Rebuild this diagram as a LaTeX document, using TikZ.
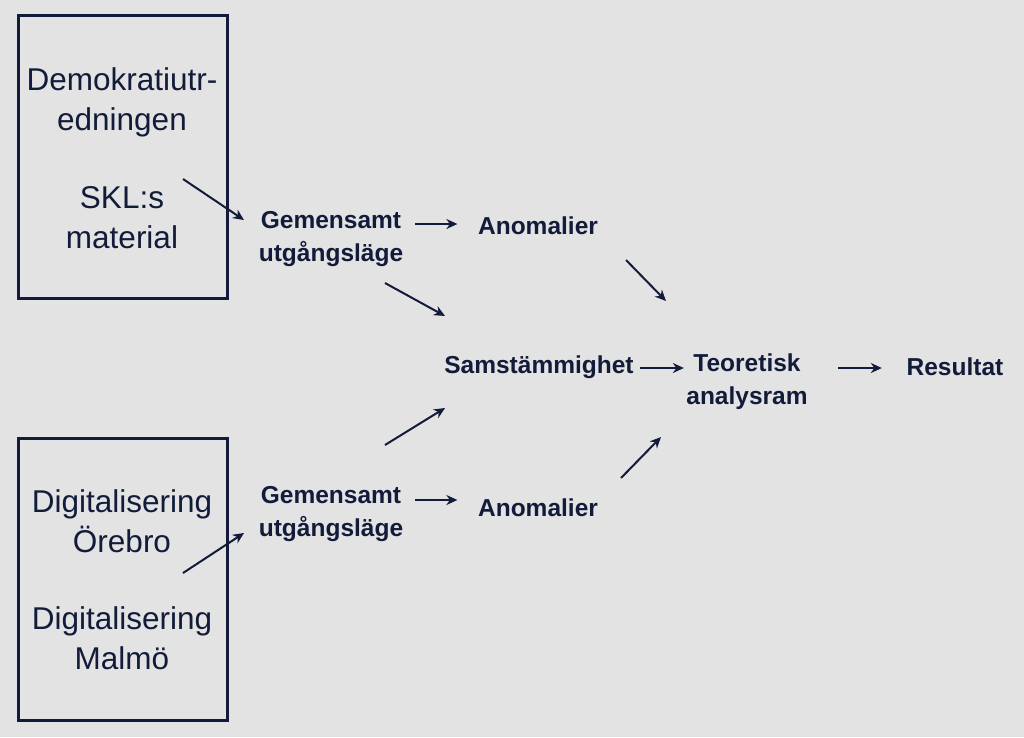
\documentclass[tikz,border=0pt]{standalone}
\usepackage{fontspec}
\setmainfont{Liberation Sans}
\usetikzlibrary{arrows.meta, positioning}
\definecolor{BgGray}{HTML}{E3E3E3}
\definecolor{InkNavy}{HTML}{121C3A}
\begin{document}
\begin{tikzpicture}[x=1pt, y=-1pt,
    srcbox/.style={draw=InkNavy, line width=3pt},
    srctext/.style={text=InkNavy, font=\fontsize{31.5}{40}\selectfont, align=center, inner sep=0pt},
    steptext/.style={text=InkNavy, font=\bfseries\fontsize{24.5}{33}\selectfont, align=center, inner sep=0pt},
    flow/.style={draw=InkNavy, line width=2pt, -{Stealth[length=11pt, width=10pt]}}]
    % background
    \fill[BgGray] (0,0) rectangle (1024,737);

    % source boxes
    \draw[srcbox] (18,15) rectangle (227,298);
    \draw[srcbox] (18,438) rectangle (227,720);
    \node[srctext] (demo) at (122,102) {Demokratiutr-\\edningen};
    \node[srctext] (skl) at (122,218) {SKL:s\\material};
    \node[srctext] (orebro) at (122,521) {Digitalisering\\Örebro};
    \node[srctext] (malmo) at (122,638) {Digitalisering\\Malmö};

    % steps
    \node[steptext] (gemA) at (331,239) {Gemensamt\\utgångsläge};
    \node[steptext] (anomA) at (538,226) {Anomalier};
    \node[steptext] (samst) at (539,367) {Samstämmighet};
    \node[steptext] (teori) at (747,382) {Teoretisk\\analysram};
    \node[steptext] (result) at (955,367) {Resultat};
    \node[steptext] (gemB) at (331,514) {Gemensamt\\utgångsläge};
    \node[steptext] (anomB) at (538,508) {Anomalier};

    % arrow ends
    \coordinate (s1) at (183,179);  \coordinate (e1) at (244,220);
    \coordinate (s2) at (385,283);  \coordinate (e2) at (445,316);
    \coordinate (s3) at (626,260);  \coordinate (e3) at (666,301);
    \coordinate (s4) at (385,445);  \coordinate (e4) at (445,408);
    \coordinate (s5) at (621,478);  \coordinate (e5) at (661,437);
    \coordinate (s6) at (183,573);  \coordinate (e6) at (244,533);

    % connectors
    \draw[flow] (s1) -- (e1);
    \draw[flow] (s2) -- (e2);
    \draw[flow] (s3) -- (e3);
    \draw[flow] (s4) -- (e4);
    \draw[flow] (s5) -- (e5);
    \draw[flow] (s6) -- (e6);
    \draw[flow] (gemA.east |- anomA) ++(12,-2) -- ++(42,0);
    \draw[flow] (gemB.east |- anomB) ++(12,-8) -- ++(42,0);
    \draw[flow] (samst.east) ++(6,1) -- ++(44,0);
    \draw[flow] (teori.east |- result) ++(30,1) -- ++(44,0);
\end{tikzpicture}
\end{document}
